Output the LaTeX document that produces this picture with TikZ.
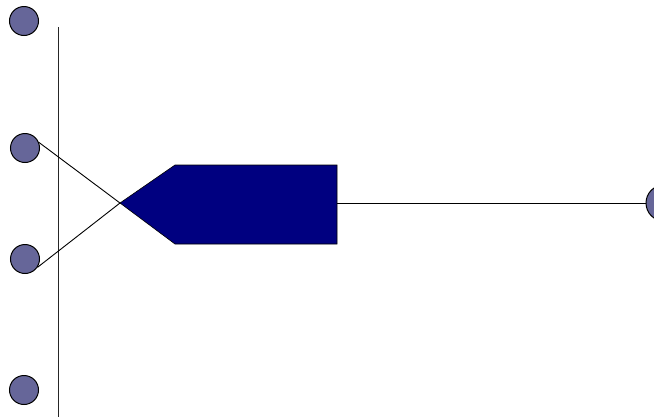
\documentclass[tikz,border=0pt]{standalone}
\begin{document}
\begin{tikzpicture}[x=1pt,y=-1pt,
  dot/.style={circle,draw=black,line width=1pt,fill=dotblue,minimum size=29pt,inner sep=0pt},
  wire/.style={draw=black,line width=0.9pt},
  tag/.style={draw=black,line width=0.6pt,fill=tagblue}]
\definecolor{dotblue}{RGB}{102,102,153}
\definecolor{tagblue}{RGB}{0,0,128}
\useasboundingbox (0,0) rectangle (654,416);
\clip (0,0) rectangle (654,416);
\fill[white] (0,0) rectangle (654,416);
% vertical bar
\coordinate (vtop) at (58.5,27);
\coordinate (vbot) at (58.5,420);
\draw[draw=black!85,line width=1pt] (vtop) -- (vbot);
% circles
\node[dot] (c1) at (24,21) {};
\node[dot] (c2) at (25,148) {};
\node[dot] (c3) at (25,259) {};
\node[dot] (c4) at (24,390) {};
\node[dot,minimum size=36pt] (c5) at (664,203) {};
% pentagon tag
\coordinate (tip) at (120,203);
\coordinate (tr) at (337,165);
\coordinate (br) at (337,244);
\coordinate (tl) at (175,165);
\coordinate (bl) at (175,244);
\coordinate (pr) at (337,203);
\path[tag] (tip) -- (tl) -- (tr) -- (br) -- (bl) -- cycle;
% connectors
\draw[wire] (c2.22) -- (tip);
\draw[wire] (c3.-34) -- (tip);
\draw[wire] (pr) -- (c5.west);
\end{tikzpicture}
\end{document}
